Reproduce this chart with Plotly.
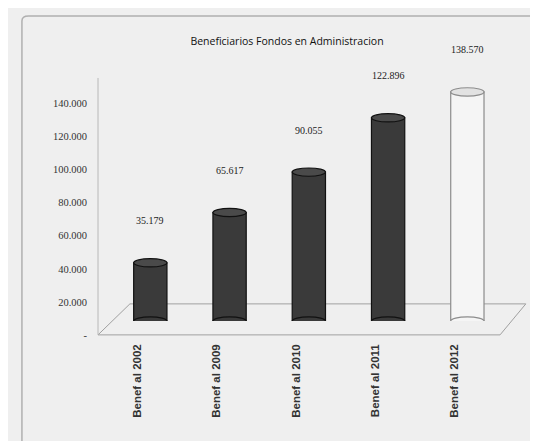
import plotly.graph_objects as go

categories = ["Benef al 2002", "Benef al 2009", "Benef al 2010", "Benef al 2011", "Benef al 2012"]
values = [35179, 65617, 90055, 122896, 138570]
value_labels = ["35.179", "65.617", "90.055", "122.896", "138.570"]
tick_vals = [0, 20000, 40000, 60000, 80000, 100000, 120000, 140000]
tick_text = ["-", "20.000", "40.000", "60.000", "80.000", "100.000", "120.000", "140.000"]
bar_colors = ["#3a3a3a", "#3a3a3a", "#3a3a3a", "#3a3a3a", "#f5f5f5"]
line_colors = ["#111111", "#111111", "#111111", "#111111", "#8c8c8c"]

BW = 0.42
fig = go.Figure()
fig.add_trace(go.Bar(
    x=list(range(len(categories))), y=values,
    marker=dict(color=bar_colors, line=dict(color=line_colors, width=1.2)),
    width=BW, hoverinfo="skip",
))

shapes = []
for i, v in enumerate(values):
    # cylinder top ellipse
    shapes.append(dict(type="circle", xref="x", yref="y",
                       x0=i - BW / 2, x1=i + BW / 2, y0=v - 2500, y1=v + 2500,
                       fillcolor="#4a4a4a" if i < 4 else "#e2e2e2",
                       line=dict(color=line_colors[i], width=1.2)))
    # cylinder bottom ellipse
    shapes.append(dict(type="circle", xref="x", yref="y",
                       x0=i - BW / 2, x1=i + BW / 2, y0=-2500, y1=2500,
                       fillcolor=bar_colors[i], line=dict(color=line_colors[i], width=1.2)))

# decorative scanned-page frame
shapes.append(dict(type="path", xref="paper", yref="paper",
                   path="M -0.186 -0.6 L -0.186 1.21 Q -0.186 1.23 -0.17 1.23 L 1.2 1.23",
                   line=dict(color="#b0b0b0", width=1.5)))
# 3D floor outline
shapes.append(dict(type="path", xref="paper", yref="paper",
                   path="M 0 -0.056 L 0.078 0.069 L 1.046 0.069 L 0.983 -0.056 Z",
                   line=dict(color="#a0a0a0", width=1), fillcolor="rgba(0,0,0,0)", layer="below"))
# back-wall / value axis line
shapes.append(dict(type="line", xref="paper", yref="paper", x0=0, x1=0, y0=-0.056, y1=0.98,
                   line=dict(color="#b8b8b8", width=1), layer="below"))

annotations = []
for i, (v, t) in enumerate(zip(values, value_labels)):
    annotations.append(dict(x=i, y=v, xref="x", yref="y", text=t, showarrow=False,
                            yshift=42, font=dict(family="Liberation Serif", size=10, color="#222")))

fig.update_layout(
    width=538, height=441,
    margin=dict(l=90, r=39, t=65, b=128),
    paper_bgcolor="#efefef", plot_bgcolor="rgba(0,0,0,0)",
    showlegend=False,
    title=dict(text="Beneficiarios Fondos en Administracion", x=279 / 538, xanchor="center",
               y=0.925, yanchor="middle",
               font=dict(family="Open Sans", size=10.5, color="#111")),
    xaxis=dict(tickmode="array", tickvals=list(range(len(categories))), ticktext=categories,
               tickangle=-90, tickfont=dict(family="Liberation Sans", size=11.5, color="#333", weight="bold"),
               showgrid=False, zeroline=False, showline=False, ticks="",
               ticklabelstandoff=20, ticklabelshift=-13,
               range=[-0.66, len(categories) - 0.5]),
    yaxis=dict(tickmode="array", tickvals=tick_vals, ticktext=tick_text,
               tickfont=dict(family="Liberation Serif", size=10.5, color="#333"),
               range=[0, 150000], showgrid=False, zeroline=False,
               showline=False, ticks="", ticklabelstandoff=10, ticklabelshift=14),
    shapes=shapes, annotations=annotations,
)
fig.write_html("out.html")
